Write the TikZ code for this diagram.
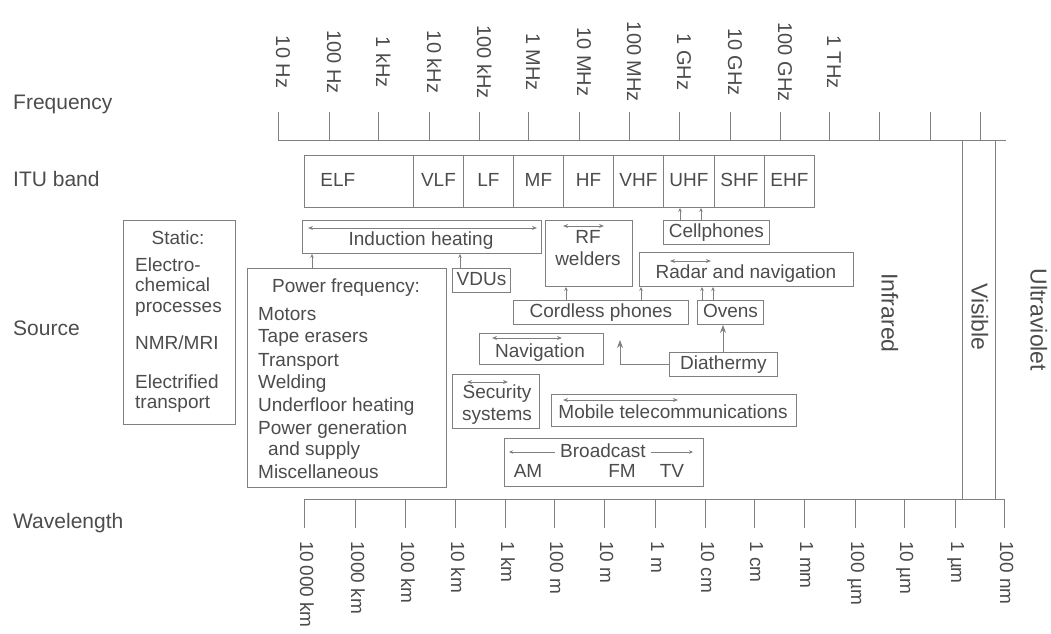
\documentclass[tikz,border=0pt]{standalone}
\usepackage{fontspec}
\setmainfont{Liberation Sans}
\usetikzlibrary{arrows.meta}
\definecolor{ink}{gray}{0.3}
\definecolor{rule}{gray}{0.5}
\tikzset{
	box/.style={draw=rule, line width=0.9pt, rectangle, inner sep=0pt, anchor=north west},
	txt/.style={text=ink, font=\fontsize{19}{22}\selectfont, inner sep=0pt, text height=14pt, text depth=4pt},
	band/.style={box, txt, minimum height=52pt, minimum width=50pt},
	lbl/.style={text=ink, font=\fontsize{21}{24}\selectfont, anchor=west, inner sep=0pt, text height=15pt, text depth=4pt},
	freq/.style={text=ink, font=\fontsize{20}{24}\selectfont, rotate=-90, inner sep=0pt, text height=14pt, text depth=4pt},
	wave/.style={freq, font=\fontsize{19}{22}\selectfont, anchor=west},
	region/.style={text=ink, font=\fontsize{23}{26}\selectfont, rotate=-90, inner sep=0pt, text height=16pt, text depth=5pt},
	feed/.style={draw=rule, line width=0.9pt, -{Stealth[length=4pt,width=3.5pt]}},
	span/.style={draw=rule, line width=0.9pt, {Stealth[length=5pt,width=4pt]}-{Stealth[length=5pt,width=4pt]}},
}

\begin{document}
\begin{tikzpicture}[x=1pt, y=-1pt]
	\useasboundingbox (0,0) rectangle (1051,633);
	
	%%%%% ROW LABELS %%%%%
	\node[lbl] (freqlbl) at (13,104) {Frequency};
	\node[lbl] (bandlbl) at (13,181) {ITU band};
	\node[lbl] (srclbl) at (13,330) {Source};
	\node[lbl] (wavelbl) at (13,523) {Wavelength};
	
	%%%%% FREQUENCY SCALE %%%%%
	\draw[rule, line width=0.9pt] (278,112) -- (278,140) -- (1006,140)
		(329,112) -- (329,140) (378,112) -- (378,140) (429,112) -- (429,140) (479,112) -- (479,140)
		(528,112) -- (528,140) (579,112) -- (579,140) (629,112) -- (629,140) (679,112) -- (679,140)
		(730,112) -- (730,140) (780,112) -- (780,140) (829,112) -- (829,140) (879,112) -- (879,140)
		(930,112) -- (930,140) (980,112) -- (980,140);
	
	\node[freq] (f10Hz) at (281,62) {10 Hz};
	\node[freq] (f100Hz) at (332,62) {100 Hz};
	\node[freq] (f1kHz) at (381,62) {1 kHz};
	\node[freq] (f10kHz) at (432,62) {10 kHz};
	\node[freq] (f100kHz) at (482,62) {100 kHz};
	\node[freq] (f1MHz) at (531,62) {1 MHz};
	\node[freq] (f10MHz) at (582,62) {10 MHz};
	\node[freq] (f100MHz) at (632,62) {100 MHz};
	\node[freq] (f1GHz) at (682,62) {1 GHz};
	\node[freq] (f10GHz) at (733,62) {10 GHz};
	\node[freq] (f100GHz) at (783,62) {100 GHz};
	\node[freq] (f1THz) at (832,62) {1 THz};
	
	%%%%% ITU BANDS %%%%%
	\node[band, minimum width=109pt, text width=77pt, inner xsep=16pt, align=left] (elf) at (304,155) {ELF};
	\node[band] (vlf) at (413,155) {VLF};
	\node[band] (lf) at (463,155) {LF};
	\node[band] (mf) at (513,155) {MF};
	\node[band] (hf) at (563,155) {HF};
	\node[band] (vhf) at (613,155) {VHF};
	\node[band, minimum width=51pt] (uhf) at (663,155) {UHF};
	\node[band] (shf) at (714,155) {SHF};
	\node[band] (ehf) at (764,155) {EHF};
	
	%%%%% OPTICAL REGIONS %%%%%
	\draw[rule, line width=0.9pt] (962,140) -- (962,499);
	\draw[rule, line width=0.9pt] (995,140) -- (995,499);
	\node[region] (infrared) at (887,313) {Infrared};
	\node[region] (visible) at (977,317) {Visible};
	\node[region] (ultraviolet) at (1036,320) {Ultraviolet};
	
	%%%%% SOURCES %%%%%
	\node[box, minimum width=112pt, minimum height=204pt] (static) at (123,220) {};
	\node[txt] (staticT) at (178,239) {Static:};
	\node[txt, anchor=west] (electro) at (135,266) {Electro-};
	\node[txt, anchor=west] (chemical) at (135,286) {chemical};
	\node[txt, anchor=west] (processes) at (135,307) {processes};
	\node[txt, anchor=west] (nmr) at (135,344) {NMR/MRI};
	\node[txt, anchor=west] (electrified) at (135,383) {Electrified};
	\node[txt, anchor=west] (eltransport) at (135,403) {transport};
	
	\node[box, minimum width=199pt, minimum height=219pt] (pow) at (247,268) {};
	\node[txt] (powT) at (346,287) {Power frequency:};
	\node[txt, anchor=west] (motors) at (258,315) {Motors};
	\node[txt, anchor=west] (tape) at (258,337) {Tape erasers};
	\node[txt, anchor=west] (transport) at (258,361) {Transport};
	\node[txt, anchor=west] (welding) at (258,383) {Welding};
	\node[txt, anchor=west] (underfloor) at (258,406) {Underfloor heating};
	\node[txt, anchor=west] (powgen) at (258,429) {Power generation};
	\node[txt, anchor=west] (supply) at (268,450) {and supply};
	\node[txt, anchor=west] (misc) at (258,473) {Miscellaneous};
	
	\node[box, minimum width=239pt, minimum height=33pt] (ind) at (302,220) {};
	\draw[span] (308,228) -- (537,228);
	\node[txt] (indT) at (421,240) {Induction heating};
	
	\node[box, txt, minimum width=58pt, minimum height=24pt] (vdu) at (452,268) {VDUs};
	
	\node[box, minimum width=87pt, minimum height=66pt] (rfw) at (545,220) {};
	\draw[span] (563,226) -- (604,226);
	\node[txt] (rfwT1) at (588,238) {RF};
	\node[txt] (rfwT2) at (588,260) {welders};
	
	\node[box, txt, minimum width=106pt, minimum height=24pt] (cell) at (663,220) {Cellphones};
	
	\node[box, minimum width=214pt, minimum height=34pt] (radar) at (639,252) {};
	\draw[span] (670,261) -- (711,261);
	\node[txt] (radarT) at (746,273) {Radar and navigation};
	
	\node[box, txt, minimum width=175pt, minimum height=24pt] (cord) at (513,300) {Cordless phones};
	\node[box, txt, minimum width=66pt, minimum height=24pt] (oven) at (697,300) {Ovens};
	
	\node[box, minimum width=124pt, minimum height=31pt] (nav) at (479,333) {};
	\draw[span] (492,338) -- (562,338);
	\node[txt] (navT) at (540,352) {Navigation};
	
	\node[box, txt, minimum width=108pt, minimum height=24pt] (dia) at (669,352) {Diathermy};
	\coordinate (diatip) at (620,340);
	
	\node[box, minimum width=87pt, minimum height=54pt] (sec) at (452,374) {};
	\draw[span] (467,382) -- (508,382);
	\node[txt] (secT1) at (497,393) {Security};
	\node[txt] (secT2) at (497,415) {systems};
	
	\node[box, minimum width=245pt, minimum height=32pt] (mob) at (551,394) {};
	\draw[span] (563,400) -- (678,400);
	\node[txt] (mobT) at (673,413) {Mobile telecommunications};
	
	\node[box, minimum width=199pt, minimum height=48pt] (brd) at (504,438) {};
	\node[txt] (brdT) at (603,452) {Broadcast};
	\draw[feed] (brdT.west) ++(-5pt,0) -- (509,452);
	\draw[feed] (brdT.east) ++(5pt,0) -- (693,452);
	\node[txt] (am) at (528,472) {AM};
	\node[txt] (fm) at (622,472) {FM};
	\node[txt] (tv) at (672,472) {TV};
	
	%%%%% LINKS %%%%%
	\draw[feed] ([xshift=65pt]pow.north west) -- ([xshift=10pt]ind.south west);
	\draw[feed] ([xshift=8pt]vdu.north west) -- ([xshift=158pt]ind.south west);
	\draw[feed] ([xshift=53pt]cord.north west) -- ([xshift=21pt]rfw.south west);
	\draw[feed] ([xshift=128pt]cord.north west) -- ([xshift=2pt]radar.south west);
	\draw[feed] ([xshift=5pt]oven.north west) -- ([xshift=63pt]radar.south west);
	\draw[feed] ([xshift=16pt]oven.north west) -- ([xshift=74pt]radar.south west);
	\draw[feed] ([xshift=17pt]cell.north west) -- ([xshift=17pt]uhf.south west);
	\draw[feed] ([xshift=38pt]cell.north west) -- ([xshift=38pt]uhf.south west);
	\draw[draw=rule, line width=0.9pt, -{Stealth[length=8pt,width=6pt]}] ([xshift=54pt]dia.north west) -- ([xshift=26pt]oven.south west);
	\draw[draw=rule, line width=0.9pt, -{Stealth[length=8pt,width=6pt]}] (dia.west) -| (diatip);
	
	%%%%% WAVELENGTH SCALE %%%%%
	\draw[rule, line width=0.9pt] (304,528) -- (304,499) -- (1004,499) -- (1004,528)
		(355,499) -- (355,528) (405,499) -- (405,528) (455,499) -- (455,528) (505,499) -- (505,528)
		(554,499) -- (554,528) (604,499) -- (604,528) (655,499) -- (655,528) (705,499) -- (705,528)
		(754,499) -- (754,528) (804,499) -- (804,528) (855,499) -- (855,528) (904,499) -- (904,528)
		(955,499) -- (955,528);
	
	\node[wave] (w10000km) at (305,541) {10\,000 km};
	\node[wave] (w1000km) at (356,541) {1000 km};
	\node[wave] (w100km) at (406,541) {100 km};
	\node[wave] (w10km) at (456,541) {10 km};
	\node[wave] (w1km) at (506,541) {1 km};
	\node[wave] (w100m) at (555,541) {100 m};
	\node[wave] (w10m) at (605,541) {10 m};
	\node[wave] (w1m) at (656,541) {1 m};
	\node[wave] (w10cm) at (706,541) {10 cm};
	\node[wave] (w1cm) at (755,541) {1 cm};
	\node[wave] (w1mm) at (805,541) {1 mm};
	\node[wave] (w100um) at (856,541) {100 µm};
	\node[wave] (w10um) at (905,541) {10 µm};
	\node[wave] (w1um) at (956,541) {1 µm};
	\node[wave] (w100nm) at (1005,541) {100 nm};
	
\end{tikzpicture}
\end{document}
